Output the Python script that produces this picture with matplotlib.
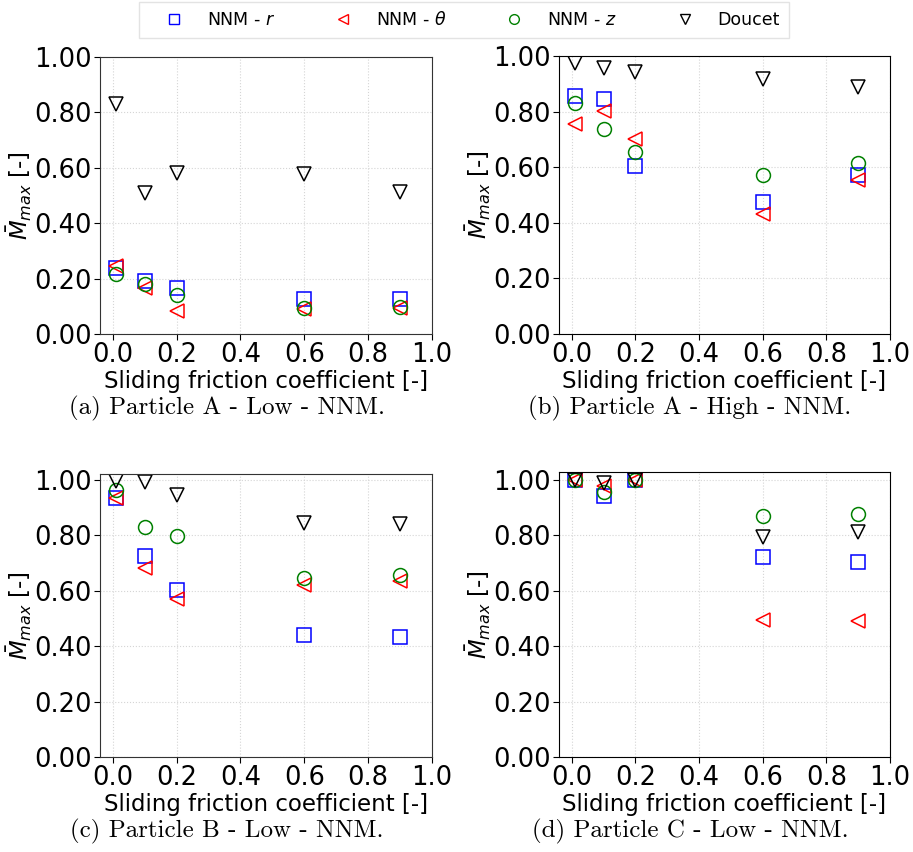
import matplotlib
matplotlib.use("Agg")
import matplotlib.pyplot as plt
from matplotlib.lines import Line2D

mu = [0.01, 0.1, 0.2, 0.6, 0.9]

a_r = [0.24, 0.19, 0.165, 0.125, 0.128]
a_t = [0.245, 0.165, 0.083, 0.092, 0.094]
a_z = [0.218, 0.18, 0.14, 0.094, 0.098]
a_d = [0.83, 0.51, 0.58, 0.578, 0.514]

b_r = [0.856, 0.844, 0.604, 0.474, 0.573]
b_t = [0.754, 0.802, 0.703, 0.433, 0.553]
b_z = [0.83, 0.736, 0.654, 0.571, 0.616]
b_d = [0.976, 0.956, 0.944, 0.918, 0.89]

c_r = [0.934, 0.726, 0.603, 0.442, 0.433]
c_t = [0.937, 0.683, 0.569, 0.621, 0.634]
c_z = [0.964, 0.829, 0.799, 0.645, 0.657]
c_d = [0.998, 0.993, 0.947, 0.846, 0.841]

d_r = [1.0, 0.942, 1.0, 0.721, 0.702]
d_t = [1.0, 0.976, 1.0, 0.495, 0.491]
d_z = [1.0, 0.955, 1.0, 0.871, 0.876]
d_d = [0.998, 0.99, 1.0, 0.795, 0.81]

captions = ["(a) Particle A - Low - NNM.", "(b) Particle A - High - NNM.",
            "(c) Particle B - Low - NNM.", "(d) Particle C - Low - NNM."]
series_labels = ["NNM - $r$", r"NNM - $\theta$", "NNM - $z$", "Doucet"]
yticks = [0.0, 0.2, 0.4, 0.6, 0.8, 1.0]
xticks = [0.0, 0.2, 0.4, 0.6, 0.8, 1.0]

W, H = 913, 852
fig = plt.figure(figsize=(W / 100, H / 100), dpi=100)
plt.rcParams['mathtext.fontset'] = 'dejavusans'
plt.rcParams['axes.unicode_minus'] = False

def box(l, t, r, b):
    return [l / W, 1 - b / H, (r - l) / W, (b - t) / H]

panels = [
    (box(100, 57, 432, 334), (a_r, a_t, a_z, a_d), 1.0, (227, 408)),
    (box(559, 56, 890, 334), (b_r, b_t, b_z, b_d), 1.0, (690, 408)),
    (box(100, 474, 432, 757), (c_r, c_t, c_z, c_d), 1.022, (227, 831)),
    (box(559, 472, 890, 757), (d_r, d_t, d_z, d_d), 1.028, (690, 831)),
]

styles = [dict(marker='s', color='blue'), dict(marker='<', color='red'),
          dict(marker='o', color='green'), dict(marker='v', color='black')]

for i, (rect, data, ytop, cap) in enumerate(panels):
    ax = fig.add_axes(rect)
    for vals, st in zip(data, styles):
        ax.plot(mu, vals, linestyle='none', marker=st['marker'], markersize=10,
                markerfacecolor='none', markeredgecolor=st['color'], markeredgewidth=1.1)
    ax.set_xlim(-0.04, 1.0)
    ax.set_ylim(0, ytop)
    ax.set_xticks(xticks)
    ax.set_xticklabels([f"{v:.1f}" for v in xticks])
    ax.set_yticks(yticks)
    ax.set_yticklabels([f"{v:.2f}" for v in yticks])
    ax.tick_params(labelsize=18.5, length=4, pad=2)
    ax.grid(True, linestyle=':', color='#d5d5d5', linewidth=0.8)
    ax.set_xlabel("Sliding friction coefficient [-]", fontsize=16.5, labelpad=1)
    ax.set_ylabel(r"$\bar{M}_{max}$ [-]", fontsize=16.5, labelpad=0)
    for s in ax.spines.values():
        s.set_color('#333333' if i % 2 == 0 else 'black')
    fig.text(cap[0] / W, 1 - cap[1] / H, captions[i],
             ha='center', va='center', fontsize=18, family=['cmr10', 'DejaVu Serif'])

handles = [Line2D([], [], linestyle='none', marker=st['marker'], markersize=7,
                  markerfacecolor='none', markeredgecolor=st['color'], markeredgewidth=1.0)
           for st in styles]
fig.legend(handles, series_labels, loc='center', bbox_to_anchor=(464 / W, 1 - 20 / H),
           ncol=4, fontsize=12.5, frameon=True, fancybox=False, edgecolor='#dddddd',
           columnspacing=2.4, handletextpad=0.4, borderpad=0.5, handlelength=3.0)

fig.savefig("out.png", dpi=100)
